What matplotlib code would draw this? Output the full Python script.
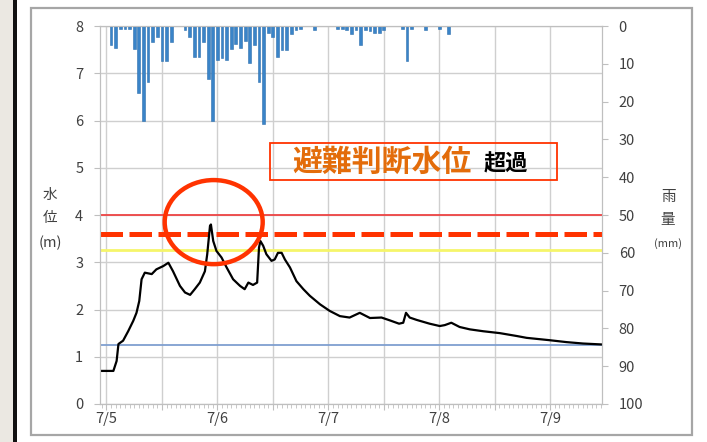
import numpy as np
import matplotlib.pyplot as plt
from matplotlib.patches import Ellipse, Rectangle
from matplotlib.transforms import ScaledTranslation

plt.rcParams['font.family'] = ['Noto Sans CJK JP', 'DejaVu Sans']

# water level (m), hours counted from 7/5 0:00
level_hours = [-1.4, 1.5, 2.2, 2.6, 3.6, 4.7, 5.8, 6.5, 7.1, 7.6, 8.3, 9.8, 10.8,
               12.3, 13.4, 14.4, 15.9, 17.0, 18.1, 19.1, 20.2, 21.3, 21.8, 22.4,
               22.6, 23.1, 23.8, 24.9, 26.0, 27.4, 28.9, 29.9, 30.7, 31.7, 32.6,
               33.0, 33.3, 33.9, 34.6, 35.7, 36.4, 37.1, 37.9, 38.6, 39.7, 41.1,
               42.6, 44.0, 46.2, 48.3, 50.5, 52.6, 54.8, 57.0, 59.5, 61.3, 63.3,
               64.2, 64.8, 65.6, 67.1, 69.9, 72.1, 73.2, 74.6, 76.4, 78.6, 81.5,
               85.1, 88.7, 90.9, 95.9, 99.5, 103.1, 107.2]
level_m = [0.70, 0.70, 0.91, 1.27, 1.34, 1.54, 1.76, 1.93, 2.18, 2.64, 2.78, 2.75,
           2.85, 2.92, 2.99, 2.81, 2.50, 2.36, 2.31, 2.43, 2.57, 2.81, 3.17, 3.77,
           3.80, 3.45, 3.24, 3.10, 2.89, 2.64, 2.50, 2.43, 2.57, 2.52, 2.57, 3.31,
           3.45, 3.35, 3.17, 3.03, 3.06, 3.20, 3.20, 3.06, 2.89, 2.60, 2.43, 2.29,
           2.11, 1.97, 1.86, 1.83, 1.93, 1.82, 1.83, 1.77, 1.70, 1.72, 1.93, 1.83,
           1.78, 1.70, 1.65, 1.67, 1.72, 1.63, 1.58, 1.54, 1.50, 1.44, 1.40, 1.35,
           1.31, 1.28, 1.26]

# hourly rainfall (mm)
rain_hours = list(range(1, 75))
rain_mm = [5.0, 5.9, 0.8, 0.8, 0.9, 6.0, 17.8, 25.0, 14.7, 4.2, 2.8, 9.2, 9.2, 4.2,
           0, 0, 1.0, 2.8, 8.1, 8.1, 4.1, 14.0, 25.0, 9.0, 8.4, 9.0, 6.0, 4.8, 5.9,
           4.0, 9.9, 5.0, 14.7, 25.8, 1.8, 2.8, 8.1, 6.2, 6.2, 2.0, 1.0, 0.8, 0, 0,
           1.0, 0, 0, 0, 0, 0.8, 0.8, 1.0, 2.0, 1.0, 5.0, 1.0, 1.2, 1.8, 1.8, 1.0,
           0, 0, 0, 0.8, 9.2, 0.8, 0, 0, 1.0, 0, 0, 0.8, 0, 2.0]

day_labels = ['7/5', '7/6', '7/7', '7/8', '7/9']
day_hours = [0, 24, 48, 72, 96]

# reference water levels
danger_level = 4.0
evac_level = 3.6
caution_level = 3.25
standby_level = 1.25

fig = plt.figure(figsize=(7.07, 4.42), dpi=100)

# page background: textured strip and black rule on the left, chart frame
fig.patches.append(Rectangle((0, 0), 0.019, 1, transform=fig.transFigure,
                             facecolor='#ebe8e2', edgecolor='none', zorder=-10))
fig.patches.append(Rectangle((0.019, 0), 0.005, 1, transform=fig.transFigure,
                             facecolor='#111111', edgecolor='none', zorder=-10))
fig.patches.append(Rectangle((0.044, 0.016), 0.935, 0.966, transform=fig.transFigure,
                             facecolor='white', edgecolor='#a6a6a6', linewidth=1.6,
                             zorder=-10))

ax = fig.add_axes([0.1414, 0.086, 0.7101, 0.855])
ax.set_facecolor('none')
ax2 = ax.twinx()

ax.set_xlim(-1.4, 107.2)
ax.set_ylim(0, 8)
ax2.set_ylim(100, 0)

# grid and ticks
ax.set_yticks(range(0, 9))
ax.set_xticks(np.arange(0, 108, 12))
ax.set_xticks(np.arange(-1, 108, 1), minor=True)
ax.grid(True, which='major', color='#cfcfcf', linewidth=1.0)
labels = []
for h in np.arange(0, 108, 12):
    labels.append(day_labels[day_hours.index(h)] if h in day_hours else '')
ax.set_xticklabels(labels)
offset = ScaledTranslation(5 / 72, 0, fig.dpi_scale_trans)
for lab in ax.get_xticklabels():
    lab.set_transform(lab.get_transform() + offset)

ax.tick_params(axis='y', length=4, color='#bfbfbf', labelsize=10.5,
               labelcolor='#404040', pad=8)
ax.tick_params(axis='x', which='major', length=4, color='#bfbfbf', labelsize=10.5,
               labelcolor='#404040', pad=2)
ax.tick_params(axis='x', which='minor', length=3, color='#bfbfbf')
ax2.set_yticks(range(0, 101, 10))
ax2.tick_params(axis='y', length=4, color='#bfbfbf', labelsize=10.5,
                labelcolor='#404040', pad=8)
for a in (ax, ax2):
    for s in a.spines.values():
        s.set_color('#bfbfbf')

# reference lines
ax.axhline(danger_level, color='#ee4444', linewidth=1.3, zorder=3)
ax.axhline(caution_level, color='#f5f56a', linewidth=2.0, zorder=3)
ax.axhline(standby_level, color='#7f9fd0', linewidth=1.3, zorder=3)
ax.axhline(evac_level, color='#ff3300', linewidth=3.6, dashes=(4.5, 1.3), zorder=4)

# water level
ax.plot(level_hours, level_m, color='black', linewidth=1.6, zorder=5)

# rainfall bars hanging from the top
ax2.bar(rain_hours, rain_mm, width=0.6, color='#3a84c8', edgecolor='#2e6fae',
        linewidth=0.4)

# annotation: circle and label box
ax.add_patch(Ellipse((23.2, 3.85), 21.2, 1.78, fill=False, edgecolor='#ff3300',
                     linewidth=3.2, zorder=6, clip_on=False))
ax.add_patch(Rectangle((35.4, 4.74), 62.0, 0.78, fill=False, edgecolor='#ff3300',
                       linewidth=1.3, zorder=6))
ax.text(40.2, 5.12, '避難判断水位', color='#e36c0a', fontsize=21.5, fontweight='bold',
        va='center', ha='left', zorder=7)
ax.text(81.6, 5.08, '超過', color='black', fontsize=16, fontweight='bold',
        va='center', ha='left', zorder=7)

# axis titles
fig.text(0.071, 0.558, '水', fontsize=10.5, color='#404040', ha='center', va='center')
fig.text(0.071, 0.506, '位', fontsize=10.5, color='#404040', ha='center', va='center')
fig.text(0.071, 0.450, '(m)', fontsize=10.5, color='#404040', ha='center', va='center')
fig.text(0.945, 0.554, '雨', fontsize=10.5, color='#404040', ha='center', va='center')
fig.text(0.945, 0.502, '量', fontsize=10.5, color='#404040', ha='center', va='center')
fig.text(0.945, 0.448, '(mm)', fontsize=8, color='#404040', ha='center', va='center')

fig.savefig('out.png', dpi=100)
